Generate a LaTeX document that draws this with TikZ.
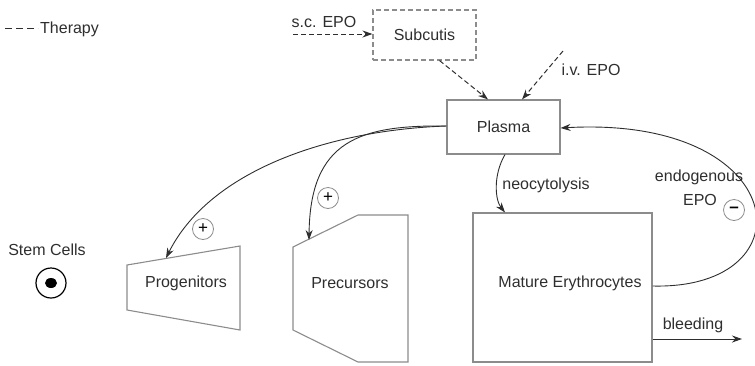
\documentclass[tikz,border=0pt]{standalone}
\usepackage{fontspec}
\setmainfont{Liberation Sans}
\usepackage{xcolor}
\usepackage{tikz}
\usetikzlibrary{arrows.meta}
\definecolor{boxgray}{HTML}{8C8C8C}
\definecolor{inkgray}{HTML}{2E2E2E}

\begin{document}
\begin{tikzpicture}[x=1pt,y=-1pt,
  font=\fontsize{16}{18}\selectfont, text=inkgray,
  box/.style={draw=boxgray, line width=1.1pt, rectangle, inner sep=0pt},
  therapy/.style={dash pattern=on 5pt off 3pt, line width=1pt, draw=inkgray},
  flow/.style={-{Stealth[length=10pt,width=7pt]}, line width=0.9pt, draw=inkgray},
  sign/.style={circle, draw=boxgray, line width=0.8pt, minimum size=21pt, inner sep=0pt, text=black, font=\fontsize{17}{17}\selectfont}]
\useasboundingbox (0,0) rectangle (755,365);

% legend
\coordinate (legA) at (5,28);
\coordinate (legB) at (38,28);
\draw[therapy, dash pattern=on 7pt off 4pt] (legA) -- (legB);
\node[anchor=west, inner sep=0pt] (legend) at (40,29) {Therapy};

% compartments
\node[box, dash pattern=on 5pt off 3pt, minimum width=103pt, minimum height=50pt] (subcutis) at (424.5,35) {Subcutis};
\node[box, minimum width=113pt, minimum height=54pt] (plasma) at (503.5,127) {Plasma};
\node[box, minimum width=179pt, minimum height=149pt] (mature) at (562.5,287.5) {};
\node (maturetxt) at (570,283) {Mature Erythrocytes};

\draw[boxgray, line width=1.1pt] (127,265) -- (240,246) -- (240,330) -- (127,310) -- cycle;
\node (prog) at (186,283) {Progenitors};
\coordinate (progtop) at (166,258);

\draw[boxgray, line width=1.1pt] (293,247) -- (358,215) -- (408,215) -- (408,362) -- (358,362) -- (293,330) -- cycle;
\node (prec) at (350,283) {Precursors};
\coordinate (prectop) at (309,240);

% stem cells
\node (stemtxt) at (47,250) {Stem Cells};
\node[circle, draw=black, line width=1.2pt, minimum size=30pt, inner sep=0pt] (stem) at (51,283) {};
\fill[black] (stem.center) ellipse (6pt and 5pt);

% therapy inputs
\coordinate (scA) at (293,34);
\coordinate (ivA) at (563,51);
\node (sclab) at (324,22) {s.c. EPO};
\node (ivlab) at (591,70) {i.v. EPO};
\draw[flow, therapy] (scA) -- (subcutis.west |- scA);
\draw[flow, therapy] ([xshift=15pt]subcutis.south) -- ([xshift=-15.5pt]plasma.north);
\draw[flow, therapy] (ivA) -- ([xshift=18.5pt]plasma.north);

% stimulation
\draw[flow] ([yshift=1pt]plasma.west) .. controls (330,130) and (210,170) .. (progtop);
\draw[flow] ([yshift=1pt]plasma.west) .. controls (360,125) and (310,140) .. (prectop);
\node[sign] (plusprog) at (203,229) {+};
\node[sign] (plusprec) at (328,198) {+};

% neocytolysis
\draw[flow] ([xshift=1.5pt]plasma.south) .. controls (493,175) and (495,200) .. ([xshift=-57.5pt]mature.north);
\node (neolab) at (546,185) {neocytolysis};

% feedback
\draw[flow] ([yshift=1.5pt]mature.east) .. controls (812,290) and (792,115) .. ([yshift=-1pt]plasma.east);
\node (endolab) at (699,177) {endogenous};
\node (epolab) at (700,200) {EPO};
\node[sign] (minus) at (734,210) {\textbf{–}};

% loss
\coordinate (bleedB) at (742,339);
\draw[flow] (mature.east |- bleedB) -- (bleedB);
\node (bleedlab) at (693,325) {bleeding};
\end{tikzpicture}
\end{document}
